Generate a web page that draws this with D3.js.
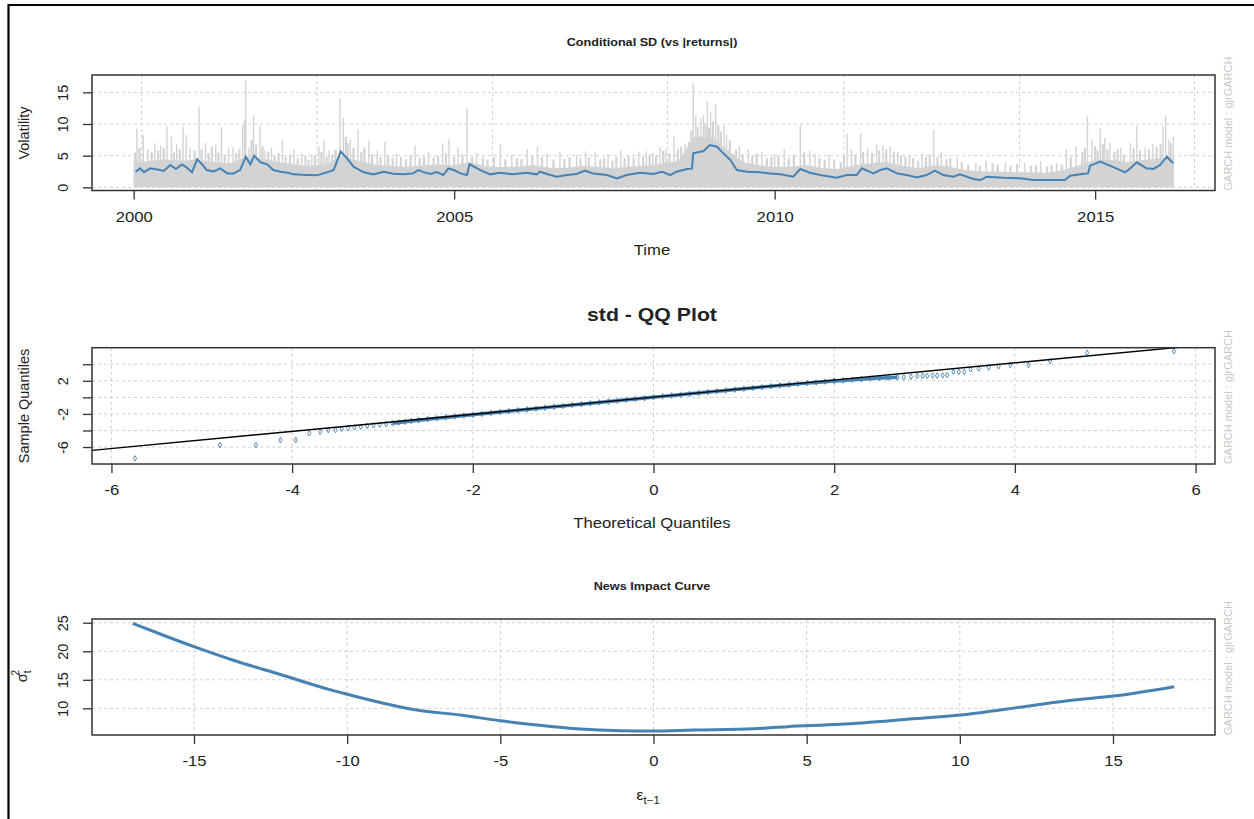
<!DOCTYPE html>
<html>
<head>
<meta charset="utf-8">
<script src="https://cdn.jsdelivr.net/npm/d3@7"></script>
<style>
  body { margin: 0; background: #fff; }
  svg { display: block; font-family: "Liberation Sans", Arial, sans-serif; }
  .grid line { stroke: #cfcfcf; stroke-dasharray: 3,3; stroke-width: 1; }
  .axis line { stroke: #333; stroke-width: 1.3; }
  .axis text { fill: #222; font-size: 14.5px; }
  .box { fill: none; stroke: #333; stroke-width: 1.5; }
</style>
</head>
<body>
<div id="chart"></div>
<script>
// ---- panel 1 : conditional SD vs |returns| ----
var sdTicks = [0, 5, 10, 15];
var timeTicks = [2000, 2005, 2010, 2015];
var timeGrid = [2000.125, 2002.86, 2005.6, 2008.33, 2011.08, 2013.82, 2016.55];

// dense part of |returns| (quarterly top of the gray mass)
var bandYear = [2000.0, 2000.25, 2000.5, 2000.75, 2001.0, 2001.25, 2001.5, 2001.75, 2002.0, 2002.25, 2002.5, 2002.75,
  2003.0, 2003.25, 2003.5, 2003.75, 2004.0, 2004.25, 2004.5, 2004.75, 2005.0, 2005.25, 2005.5, 2005.75,
  2006.0, 2006.25, 2006.5, 2006.75, 2007.0, 2007.25, 2007.5, 2007.75, 2008.0, 2008.25, 2008.5, 2008.75,
  2009.0, 2009.25, 2009.5, 2009.75, 2010.0, 2010.25, 2010.5, 2010.75, 2011.0, 2011.25, 2011.5, 2011.75,
  2012.0, 2012.25, 2012.5, 2012.75, 2013.0, 2013.25, 2013.5, 2013.75, 2014.0, 2014.25, 2014.5, 2014.75,
  2015.0, 2015.25, 2015.5, 2015.75, 2016.0, 2016.22];
var bandVal = [3.8, 4.2, 4.4, 4.2, 4.4, 4.0, 3.8, 4.8, 4.6, 4.0, 3.6, 3.4,
  3.6, 5.0, 4.2, 3.6, 3.4, 3.2, 3.5, 3.6, 3.5, 4.0, 3.3, 3.2,
  3.3, 3.5, 3.1, 3.1, 3.4, 3.2, 3.0, 3.3, 3.4, 3.8, 4.2, 8.0,
  8.0, 6.0, 4.0, 3.5, 3.2, 3.3, 3.5, 3.0, 2.9, 3.5, 3.8, 4.0,
  3.4, 3.0, 3.5, 3.2, 2.7, 2.5, 2.5, 2.4, 2.4, 2.3, 2.7, 3.5,
  4.3, 4.3, 4.0, 4.3, 4.6, 4.6];

// isolated large |returns|
var spikeYear = [2000.05, 2000.15, 2000.22, 2000.33, 2000.42, 2000.52, 2000.59, 2000.67, 2000.77, 2000.82, 2000.88,
  2001.02, 2001.12, 2001.28, 2001.37, 2001.48, 2001.55, 2001.70, 2001.73, 2001.75, 2001.80, 2001.87, 2001.97,
  2002.05, 2002.15, 2002.32, 2002.50, 2002.62, 2002.78, 2002.89, 2002.97, 2003.05, 2003.22, 2003.27, 2003.38,
  2003.50, 2003.67, 2003.80, 2003.92, 2004.10, 2004.39, 2004.60, 2004.82, 2004.92, 2005.06, 2005.20, 2005.35,
  2005.72, 2005.90, 2006.14, 2006.30, 2006.45, 2006.65, 2006.91, 2007.05, 2007.20, 2007.40, 2007.60, 2007.88,
  2008.00, 2008.10, 2008.21, 2008.30, 2008.43, 2008.60, 2008.73, 2008.77, 2008.85, 2008.89, 2008.95, 2009.00,
  2009.08, 2009.21, 2009.25, 2009.36, 2009.45, 2009.59, 2009.80, 2010.00, 2010.15, 2010.40, 2010.55, 2010.63,
  2010.85, 2011.13, 2011.20, 2011.34, 2011.45, 2011.59, 2011.69, 2011.80, 2011.92, 2012.10, 2012.30, 2012.48,
  2012.60, 2012.85, 2013.14, 2013.30, 2013.60, 2013.90, 2014.15, 2014.40, 2014.55, 2014.70, 2014.88, 2014.95,
  2015.08, 2015.15, 2015.23, 2015.40, 2015.55, 2015.65, 2015.78, 2015.90, 2016.06, 2016.10, 2016.15, 2016.22];
var spikeVal = [9.3, 8.3, 6.0, 7.0, 6.5, 9.6, 8.0, 6.8, 9.6, 8.3, 6.3,
  12.7, 7.0, 6.8, 9.5, 6.3, 6.3, 9.8, 10.6, 17.0, 6.3, 11.4, 9.7,
  5.8, 6.3, 7.4, 6.0, 5.5, 5.2, 6.4, 7.4, 5.8, 14.1, 10.9, 7.5,
  9.1, 7.4, 5.8, 7.2, 5.4, 6.6, 5.6, 7.0, 7.6, 6.3, 12.5, 5.4,
  6.8, 5.2, 6.0, 6.4, 5.4, 5.6, 5.1, 5.7, 5.5, 5.3, 5.8, 5.6,
  5.7, 5.4, 6.4, 6.0, 8.1, 6.8, 16.4, 11.4, 10.9, 11.4, 13.5, 12.0,
  13.1, 9.7, 8.3, 5.3, 6.6, 6.0, 5.6, 5.3, 6.0, 9.9, 5.8, 5.3,
  5.2, 8.5, 6.0, 8.5, 6.2, 6.7, 6.7, 6.5, 5.6, 5.0, 5.4, 9.0,
  5.6, 4.6, 3.8, 4.2, 4.0, 3.9, 4.1, 3.8, 6.0, 6.5, 11.2, 7.5,
  9.3, 7.8, 7.0, 6.3, 7.0, 9.7, 6.3, 6.8, 9.7, 11.4, 7.5, 8.0];

// smaller |returns| sticking out of the gray mass
var minorYear = [2000.02, 2000.09, 2000.28, 2000.38, 2000.47, 2000.63, 2000.72, 2000.95, 2001.06, 2001.17, 2001.22,
  2001.32, 2001.42, 2001.60, 2001.65, 2001.84, 2001.91, 2002.01, 2002.10, 2002.20, 2002.26, 2002.37, 2002.44,
  2002.56, 2002.68, 2002.73, 2002.83, 2002.93, 2003.01, 2003.10, 2003.15, 2003.31, 2003.34, 2003.43, 2003.55,
  2003.60, 2003.72, 2003.85, 2003.97, 2004.04, 2004.17, 2004.25, 2004.32, 2004.46, 2004.53, 2004.68, 2004.75,
  2004.87, 2005.00, 2005.13, 2005.28, 2005.45, 2005.52, 2005.62, 2005.80, 2005.98, 2006.05, 2006.22, 2006.37,
  2006.55, 2006.72, 2006.80, 2006.97, 2007.10, 2007.28, 2007.34, 2007.47, 2007.53, 2007.66, 2007.72, 2007.80,
  2007.95, 2008.05, 2008.15, 2008.26, 2008.36, 2008.49, 2008.54, 2008.66, 2008.70, 2008.80, 2008.92, 2008.98,
  2009.04, 2009.12, 2009.16, 2009.30, 2009.40, 2009.50, 2009.65, 2009.72, 2009.88, 2009.95, 2010.06, 2010.22,
  2010.30, 2010.46, 2010.70, 2010.78, 2010.93, 2011.03, 2011.08, 2011.26, 2011.38, 2011.52, 2011.63, 2011.74,
  2011.86, 2011.97, 2012.04, 2012.16, 2012.24, 2012.36, 2012.42, 2012.54, 2012.68, 2012.74, 2012.92, 2013.02,
  2013.20, 2013.40, 2013.48, 2013.68, 2013.78, 2014.00, 2014.08, 2014.25, 2014.32, 2014.48, 2014.62, 2014.80,
  2014.84, 2015.00, 2015.04, 2015.12, 2015.19, 2015.30, 2015.35, 2015.45, 2015.60, 2015.70, 2015.84, 2015.96,
  2016.02, 2016.18];
var minorVal = [5.5, 6.2, 5.6, 5.8, 6.2, 5.5, 6.0, 5.8, 6.0, 5.4, 6.4,
  5.5, 5.2, 5.4, 6.0, 7.5, 6.8, 6.5, 5.6, 5.0, 5.4, 4.8, 5.2,
  4.6, 4.9, 4.4, 5.0, 5.6, 4.8, 5.2, 6.0, 8.0, 7.0, 6.2, 5.6,
  6.3, 5.2, 4.8, 5.0, 4.6, 4.8, 4.4, 5.0, 4.6, 4.8, 4.7, 5.0,
  5.4, 4.8, 5.2, 4.8, 4.6, 4.4, 4.8, 4.4, 4.6, 4.5, 5.0, 4.8,
  4.4, 4.5, 4.8, 4.6, 4.8, 4.4, 4.6, 4.2, 4.8, 4.6, 5.0, 4.7,
  4.9, 5.2, 5.0, 5.8, 5.4, 6.0, 6.4, 7.2, 9.0, 9.5, 10.0, 9.4,
  10.4, 9.8, 8.8, 7.4, 6.0, 5.2, 5.0, 5.4, 4.6, 4.8, 5.0, 4.6,
  5.2, 5.5, 4.6, 4.4, 4.4, 4.0, 5.0, 5.2, 5.6, 5.4, 5.8, 6.0,
  5.6, 5.0, 4.8, 4.6, 4.2, 4.8, 5.2, 4.8, 4.4, 4.6, 4.0, 3.6,
  3.4, 3.8, 3.6, 3.4, 3.7, 3.4, 3.5, 3.3, 3.5, 3.6, 4.8, 5.6,
  6.2, 6.5, 5.8, 6.8, 6.0, 5.6, 6.0, 5.2, 6.2, 5.8, 6.0, 6.4,
  6.8, 7.0];

// conditional sigma
var sigmaYear = [2000.03, 2000.10, 2000.16, 2000.26, 2000.41, 2000.47, 2000.57, 2000.66, 2000.75, 2000.82, 2000.91,
  2000.99, 2001.07, 2001.14, 2001.25, 2001.35, 2001.46, 2001.56, 2001.66, 2001.75, 2001.82, 2001.88, 2001.98,
  2002.08, 2002.18, 2002.29, 2002.40, 2002.50, 2002.70, 2002.85, 2002.91, 2003.02, 2003.12, 2003.23, 2003.33,
  2003.43, 2003.59, 2003.74, 2003.90, 2004.05, 2004.21, 2004.36, 2004.44, 2004.52, 2004.63, 2004.73, 2004.83,
  2004.91, 2005.00, 2005.10, 2005.20, 2005.24, 2005.41, 2005.56, 2005.72, 2005.92, 2006.13, 2006.29, 2006.34,
  2006.50, 2006.60, 2006.76, 2006.91, 2007.04, 2007.17, 2007.38, 2007.54, 2007.69, 2007.90, 2008.11, 2008.24,
  2008.37, 2008.47, 2008.63, 2008.71, 2008.73, 2008.89, 2008.99, 2009.10, 2009.20, 2009.31, 2009.41, 2009.57,
  2009.77, 2009.93, 2010.09, 2010.29, 2010.40, 2010.55, 2010.71, 2010.97, 2011.13, 2011.28, 2011.36, 2011.54,
  2011.65, 2011.75, 2011.91, 2012.06, 2012.22, 2012.37, 2012.50, 2012.63, 2012.79, 2012.89, 2013.10, 2013.21,
  2013.31, 2013.57, 2013.83, 2014.04, 2014.35, 2014.53, 2014.61, 2014.77, 2014.89, 2014.92, 2015.08, 2015.23,
  2015.39, 2015.47, 2015.55, 2015.65, 2015.80, 2015.91, 2016.01, 2016.12, 2016.22];
var sigmaVal = [2.47, 3.0, 2.4, 3.0, 2.73, 2.6, 3.52, 2.9, 3.6, 3.2, 2.37,
  4.42, 3.6, 2.73, 2.5, 3.0, 2.2, 2.2, 2.73, 4.84, 3.63, 5.0, 3.95,
  3.63, 2.73, 2.47, 2.3, 2.05, 1.95, 1.9, 2.05, 2.37, 2.73, 5.63, 4.58,
  3.26, 2.37, 2.05, 2.47, 2.15, 2.05, 2.2, 2.73, 2.4, 2.1, 2.4, 1.95,
  3.0, 2.7, 2.2, 1.95, 3.63, 2.73, 2.05, 2.3, 2.05, 2.3, 2.05, 2.47,
  1.94, 1.68, 1.94, 2.1, 2.63, 2.2, 1.94, 1.42, 1.94, 2.3, 2.1, 2.47,
  1.94, 2.47, 2.89, 2.95, 5.37, 5.73, 6.68, 6.42, 5.37, 4.31, 2.73, 2.47,
  2.4, 2.2, 2.05, 1.68, 2.89, 2.3, 1.94, 1.52, 1.94, 1.94, 3.0, 2.2,
  2.73, 3.0, 2.2, 1.94, 1.57, 1.94, 2.63, 1.94, 1.68, 2.05, 1.31, 1.15,
  1.68, 1.52, 1.42, 1.15, 1.15, 1.15, 1.84, 2.05, 2.2, 3.42, 4.05, 3.42,
  2.73, 2.37, 3.0, 3.95, 3.0, 2.9, 3.52, 4.84, 3.79];

// ---- panel 2 : QQ plot ----
var qqXTicks = [-6, -4, -2, 0, 2, 4, 6];
var qqYTicks = [-6, -4, -2, 0, 2, 4];
var qqYLabeled = [-6, -2, 2];
var qqTheo = [-5.74, -4.80, -4.40, -4.13, -3.96, -3.81, -3.69, -3.60, -3.52, -3.45, -3.38, -3.31, -3.24, -3.17,
  -3.10, -3.03, -2.96, -2.89, -2.82, -2.75, -2.68, -2.60,
  -2.5, -2.4, -2.3, -2.2, -2.1, -2.0, -1.9, -1.8, -1.7, -1.6, -1.5, -1.4, -1.3, -1.2, -1.1, -1.0,
  -0.9, -0.8, -0.7, -0.6, -0.5, -0.4, -0.3, -0.2, -0.1, 0, 0.1, 0.2, 0.3, 0.4, 0.5, 0.6, 0.7, 0.8, 0.9,
  1.0, 1.1, 1.2, 1.3, 1.4, 1.5, 1.6, 1.7, 1.8, 1.9, 2.0, 2.1, 2.2, 2.3, 2.4, 2.5, 2.6, 2.7,
  2.77, 2.85, 2.92, 2.98, 3.03, 3.09, 3.14, 3.20, 3.25, 3.32, 3.38, 3.44, 3.51, 3.60, 3.71, 3.82, 3.95,
  4.15, 4.39, 4.80, 5.76];
var qqSample = [-7.37, -5.76, -5.76, -5.16, -5.16, -4.35, -4.15, -3.95, -3.95, -3.80, -3.72, -3.62, -3.55, -3.45,
  -3.38, -3.30, -3.22, -3.13, -3.04, -2.95, -2.86, -2.76,
  -2.64, -2.53, -2.42, -2.31, -2.20, -2.10, -1.99, -1.88, -1.78, -1.67, -1.56, -1.46, -1.35, -1.24, -1.14, -1.03,
  -0.93, -0.82, -0.72, -0.61, -0.51, -0.40, -0.30, -0.19, -0.09, 0.02, 0.12, 0.23, 0.33, 0.43, 0.53, 0.64, 0.74, 0.84, 0.94,
  1.04, 1.14, 1.24, 1.34, 1.44, 1.53, 1.63, 1.72, 1.81, 1.90, 1.98, 2.05, 2.12, 2.20, 2.27, 2.33, 2.38, 2.42,
  2.42, 2.50, 2.58, 2.60, 2.60, 2.62, 2.62, 2.66, 2.69, 3.09, 3.09, 3.09, 3.38, 3.50, 3.62, 3.75, 3.90,
  3.90, 4.38, 5.39, 5.59];
var qqLineIntercept = 0.03, qqLineSlope = 1.035;

// ---- panel 3 : news impact curve ----
var nicXTicks = [-15, -10, -5, 0, 5, 10, 15];
var nicYTicks = [10, 15, 20, 25];
var nicEps = [-17, -16, -15, -13.74, -12.1, -10.45, -10, -8.82, -7.73, -6.31, -5, -3.81, -2.39, -1.09, 0,
  1.31, 3.27, 4.36, 6.1, 8.28, 10, 12.08, 13.72, 15, 17];
var nicSigma = [24.9, 22.8, 20.8, 18.46, 15.8, 13.1, 12.46, 10.9, 9.7, 8.83, 7.83, 7.08, 6.37, 6.08, 6.02,
  6.2, 6.43, 6.78, 7.2, 8.07, 8.83, 10.28, 11.45, 12.15, 13.8];

var W = 1254, H = 819, L = 92, R = 1215;
var SX = 1.15; // the picture is a little wider than tall, text too
var svg = d3.select("#chart").append("svg").attr("width", W).attr("height", H);

// outer frame (top and left edges visible)
svg.append("path").attr("d", "M8.5," + H + "V5H" + W).attr("fill", "none").attr("stroke", "#000").attr("stroke-width", 2.2);

function label(x, y, size, str, bold) {
  return svg.append("text").attr("transform", "translate(" + x + "," + y + ") scale(" + SX + ",1)")
    .attr("dy", "0.35em").attr("text-anchor", "middle").attr("font-size", size)
    .attr("font-weight", bold ? "bold" : null).attr("fill", "#222").text(str);
}

function drawPanel(x, y, top, bottom, xTicks, yTicks, yLabeled, clipId) {
  var g = svg.append("g");
  var grid = g.append("g").attr("class", "grid");
  grid.selectAll("line.h").data(yTicks).enter().append("line")
    .attr("x1", L).attr("x2", R).attr("y1", y).attr("y2", y);
  svg.append("clipPath").attr("id", clipId).append("rect")
    .attr("x", L).attr("y", top).attr("width", R - L).attr("height", bottom - top);

  var xa = g.append("g").attr("class", "axis").attr("transform", "translate(0," + bottom + ")")
    .call(d3.axisBottom(x).tickValues(xTicks).tickSize(9).tickFormat(function (d) { return String(d); }));
  xa.select(".domain").remove();
  xa.selectAll("text").attr("y", 26).attr("dy", "0.35em").attr("transform", "scale(" + SX + ",1)");

  var ya = g.append("g").attr("class", "axis").attr("transform", "translate(" + L + ",0)")
    .call(d3.axisLeft(y).tickValues(yTicks).tickSize(9)
      .tickFormat(function (d) { return yLabeled.indexOf(d) >= 0 ? String(d) : ""; }));
  ya.select(".domain").remove();
  ya.selectAll("text").attr("x", null).attr("dy", "0.35em").attr("text-anchor", "middle")
    .attr("transform", "translate(-29,0) rotate(-90)");

  g.append("text").attr("transform", "translate(1228," + bottom + ") rotate(-90)")
    .attr("dy", "0.35em").attr("font-size", 11).attr("fill", "#c8c8c8").text("GARCH model : gjrGARCH");
  return g;
}

function box(top, bottom) {
  svg.append("rect").attr("class", "box").attr("x", L).attr("y", top).attr("width", R - L).attr("height", bottom - top);
}

// ---------- panel 1 ----------
var t1 = 75, b1 = 190.5;
var x1 = d3.scaleLinear().domain([1999.35, 2016.87]).range([L, R]);
var y1 = d3.scaleLinear().domain([-0.5, 17.74]).range([b1, t1]);
var p1 = drawPanel(x1, y1, t1, b1, timeTicks, sdTicks, sdTicks, "c1");
p1.select(".grid").selectAll("line.v").data(timeGrid).enter().append("line")
  .attr("x1", x1).attr("x2", x1).attr("y1", t1).attr("y2", b1);
p1.selectAll(".grid line").each(function (d) {
  if (this.getAttribute("x1") == L) d3.select(this).attr("y1", y1(d)).attr("y2", y1(d));
});

var band = bandYear.map(function (d, i) { return [d, bandVal[i]]; });
p1.append("path").datum(band)
  .attr("fill", "#d3d3d3")
  .attr("d", d3.area().x(function (d) { return x1(d[0]); }).y0(y1(0)).y1(function (d) { return y1(d[1]); }));
p1.append("g").selectAll("line").data(minorYear).enter().append("line")
  .attr("x1", x1).attr("x2", x1).attr("y1", y1(0))
  .attr("y2", function (d, i) { return y1(minorVal[i]); })
  .attr("stroke", "#d3d3d3").attr("stroke-width", 2.2);
p1.append("g").selectAll("line").data(spikeYear).enter().append("line")
  .attr("x1", x1).attr("x2", x1).attr("y1", y1(0))
  .attr("y2", function (d, i) { return y1(spikeVal[i]); })
  .attr("stroke", "#d3d3d3").attr("stroke-width", 1.4);
p1.append("path").datum(sigmaYear.map(function (d, i) { return [d, sigmaVal[i]]; }))
  .attr("fill", "none").attr("stroke", "#4682b4").attr("stroke-width", 2)
  .attr("d", d3.line().x(function (d) { return x1(d[0]); }).y(function (d) { return y1(d[1]); }));
box(t1, b1);

label(652, 42, 11, "Conditional SD (vs |returns|)", true);
label(652, 250, 14.5, "Time");
svg.append("text").attr("transform", "translate(24,133) rotate(-90)").attr("dy", "0.35em")
  .attr("text-anchor", "middle").attr("font-size", 14.5).attr("fill", "#222").text("Volatility");

// ---------- panel 2 ----------
var t2 = 347.7, b2 = 464;
var x2 = d3.scaleLinear().domain([-6.215, 6.215]).range([L, R]);
var y2 = d3.scaleLinear().domain([-8.05, 6.0]).range([b2, t2]);
var p2 = drawPanel(x2, y2, t2, b2, qqXTicks, qqYTicks, qqYLabeled, "c2");
p2.select(".grid").selectAll("line.v").data(qqXTicks).enter().append("line")
  .attr("x1", x2).attr("x2", x2).attr("y1", t2).attr("y2", b2);
p2.selectAll(".grid line").each(function (d) {
  if (this.getAttribute("x1") == L) d3.select(this).attr("y1", y2(d)).attr("y2", y2(d));
});

var qq = qqTheo.map(function (d, i) { return [d, qqSample[i]]; });
// overplotted central mass of points
p2.append("path").datum(qq.filter(function (d) { return d[0] >= -2.9 && d[0] <= 2.75; }))
  .attr("fill", "none").attr("stroke", "#4682b4").attr("stroke-width", 3.5)
  .attr("d", d3.line().x(function (d) { return x2(d[0]); }).y(function (d) { return y2(d[1]); }));
p2.append("g").selectAll("path").data(qq).enter().append("path")
  .attr("transform", function (d) { return "translate(" + x2(d[0]) + "," + y2(d[1]) + ")"; })
  .attr("d", d3.symbol(d3.symbolDiamond, 9))
  .attr("fill", "none").attr("stroke", "#4682b4").attr("stroke-width", 0.9);
var xd = x2.domain();
p2.append("line").attr("clip-path", "url(#c2)")
  .attr("x1", x2(xd[0])).attr("y1", y2(qqLineIntercept + qqLineSlope * xd[0]))
  .attr("x2", x2(xd[1])).attr("y2", y2(qqLineIntercept + qqLineSlope * xd[1]))
  .attr("stroke", "#000").attr("stroke-width", 1.4);
box(t2, b2);

label(652, 315, 18.5, "std - QQ Plot", true);
label(652, 523, 14.5, "Theoretical Quantiles");
svg.append("text").attr("transform", "translate(24,406) rotate(-90)").attr("dy", "0.35em")
  .attr("text-anchor", "middle").attr("font-size", 14.5).attr("fill", "#222").text("Sample Quantiles");

// ---------- panel 3 ----------
var t3 = 619, b3 = 735;
var x3 = d3.scaleLinear().domain([-18.33, 18.33]).range([L, R]);
var y3 = d3.scaleLinear().domain([5.33, 25.65]).range([b3, t3]);
var p3 = drawPanel(x3, y3, t3, b3, nicXTicks, nicYTicks, nicYTicks, "c3");
p3.select(".grid").selectAll("line.v").data(nicXTicks).enter().append("line")
  .attr("x1", x3).attr("x2", x3).attr("y1", t3).attr("y2", b3);
p3.selectAll(".grid line").each(function (d) {
  if (this.getAttribute("x1") == L) d3.select(this).attr("y1", y3(d)).attr("y2", y3(d));
});
p3.append("path").datum(nicEps.map(function (d, i) { return [d, nicSigma[i]]; }))
  .attr("fill", "none").attr("stroke", "#4682b4").attr("stroke-width", 3)
  .attr("d", d3.line().curve(d3.curveMonotoneX).x(function (d) { return x3(d[0]); }).y(function (d) { return y3(d[1]); }));
box(t3, b3);

label(652, 586, 11, "News Impact Curve", true);
var ex = svg.append("text").attr("transform", "translate(648,795) scale(" + SX + ",1)").attr("dy", "0.35em")
  .attr("text-anchor", "middle").attr("font-size", 14.5).attr("fill", "#222");
ex.append("tspan").text("ε");
ex.append("tspan").attr("font-size", 10).attr("dy", 4).text("t−1");
var sy = svg.append("text").attr("transform", "translate(22,676) rotate(-90)").attr("dy", "0.35em")
  .attr("text-anchor", "middle").attr("font-size", 14.5).attr("fill", "#222");
sy.append("tspan").text("σ");
sy.append("tspan").attr("font-size", 10).attr("dy", 4).text("t");
sy.append("tspan").attr("font-size", 10).attr("dx", -5).attr("dy", -12).text("2");
</script>
</body>
</html>
